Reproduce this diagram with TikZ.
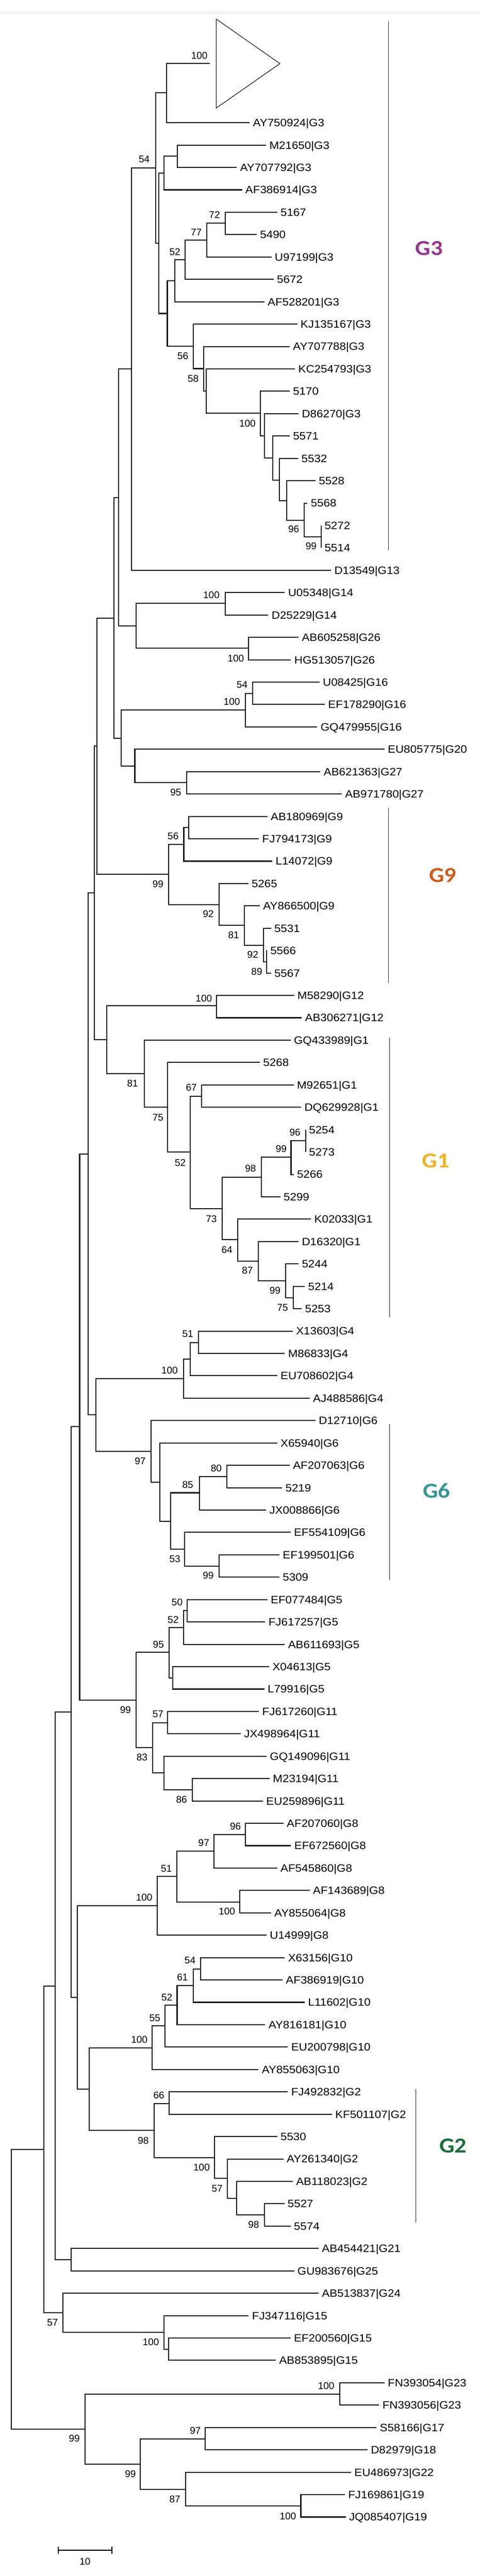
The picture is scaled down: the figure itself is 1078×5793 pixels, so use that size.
\documentclass[tikz,border=0pt]{standalone}
\usepackage{fontspec}
\setmainfont{Liberation Sans}
\newfontfamily\labfont[FakeStretch=1.08]{Liberation Sans}
\newfontfamily\grpfont[FakeStretch=1.12]{Carlito}
\definecolor{cGiii}{RGB}{148,55,140}
\definecolor{cGix}{RGB}{197,95,30}
\definecolor{cGi}{RGB}{236,180,40}
\definecolor{cGvi}{RGB}{55,150,150}
\definecolor{cGii}{RGB}{30,110,60}
\begin{document}
\begin{tikzpicture}[x=0.5pt,y=-0.5pt,
  br/.style={line width=1.2pt, draw=black!90},
  lab/.style={anchor=west, inner sep=0pt, xshift=3.5pt, font=\labfont\fontsize{12}{12}\selectfont, text height=8.6pt, text depth=0pt},
  bs/.style={inner sep=0pt, font=\fontsize{11}{11}\selectfont},
  grp/.style={inner sep=0pt, font=\grpfont\bfseries\fontsize{24}{24}\selectfont},
  brk/.style={line width=0.75pt, draw=black!85},
  trishape/.style={line width=0.6pt, draw=black}]
\useasboundingbox (0,0) rectangle (1078,5793);
\fill[black!5] (0,25) rectangle (1078,31);

% leaves
\foreach \i/\lx/\lbl in {1/561/AY750924|G3, 2/598/M21650|G3, 3/532/AY707792|G3, 4/544/AF386914|G3, 5/623/5167, 6/577/5490, 7/610/U97199|G3, 8/615/5672, 9/594/AF528201|G3, 10/668/KJ135167|G3, 11/651/AY707788|G3, 12/663/KC254793|G3, 13/651/5170, 14/671/D86270|G3, 15/651/5571, 16/670/5532, 17/709/5528, 18/691/5568, 19/722/5272, 20/722/5514, 21/744/D13549|G13, 22/640/U05348|G14, 23/603/D25229|G14, 24/671/AB605258|G26, 25/654/HG513057|G26, 26/718/U08425|G16, 27/730/EF178290|G16, 28/713/GQ479955|G16, 29/864/EU805775|G20, 30/720/AB621363|G27, 31/768/AB971780|G27, 32/601/AB180969|G9, 33/582/FJ794173|G9, 34/612/L14072|G9, 35/558/5265, 36/584/AY866500|G9, 37/609/5531, 38/600/5566, 39/609/5567, 40/661/M58290|G12, 41/678/AB306271|G12, 42/653/GQ433989|G1, 43/584/5268, 44/660/M92651|G1, 45/677/DQ629928|G1, 46/687/5254, 47/687/5273, 48/660/5266, 49/630/5299, 50/699/K02033|G1, 51/671/D16320|G1, 52/671/5244, 53/685/5214, 54/678/5253, 55/658/X13603|G4, 56/640/M86833|G4, 57/623/EU708602|G4, 58/696/AJ488586|G4, 59/709/D12710|G6, 60/623/X65940|G6, 61/651/AF207063|G6, 62/634/5219, 63/598/JX008866|G6, 64/653/EF554109|G6, 65/628/EF199501|G6, 66/628/5309, 67/601/EF077484|G5, 68/596/FJ617257|G5, 69/640/AB611693|G5, 70/605/X04613|G5, 71/594/L79916|G5, 72/582/FJ617260|G11, 73/541/JX498964|G11, 74/599/GQ149096|G11, 75/606/M23194|G11, 76/591/EU259896|G11, 77/637/AF207060|G8, 78/654/EF672560|G8, 79/623/AF545860|G8, 80/696/AF143689|G8, 81/609/AY855064|G8, 82/599/U14999|G8, 83/640/X63156|G10, 84/635/AF386919|G10, 85/685/L11602|G10, 86/596/AY816181|G10, 87/647/EU200798|G10, 88/581/AY855063|G10, 89/647/FJ492832|G2, 90/746/KF501107|G2, 91/623/5530, 92/637/AY261340|G2, 93/658/AB118023|G2, 94/639/5527, 95/653/5574, 96/716/AB454421|G21, 97/661/GU983676|G25, 98/716/AB513837|G24, 99/559/FJ347116|G15, 100/653/EF200560|G15, 101/620/AB853895|G15, 102/864/FN393054|G23, 103/852/FN393056|G23, 104/846/S58166|G17, 105/826/D82979|G18, 106/789/EU486973|G22, 107/775/FJ169861|G19, 108/777/JQ085407|G19}{
  \coordinate (L\i) at (\lx,{276+(\i-1)*50.32});
  \node[lab] (T\i) at (L\i) {\lbl};
}

% internal nodes
\foreach \nm/\nx/\ny in {nA/374/209, T0/472/143, nD2/399/351, nD/368/389, n5167/506/502, n77/465/540, n52/416/584, nE2/393/631, nE/376/705, nF/434/779, nG/458/829, nH/463/879, nI/585/929, nJ/594/980, nK/613/1030, nL/628/1080, nM/644/1126, nN/684/1170, nO/722/1207, nC/357/547, nB/350/378, nP/295/830, nG14/506/1357, nG26/558/1458, nQ/306/1408, nS/266/1119, nG16a/568/1559, nG16/551/1597, nG27/419/1760, nV/303/1723, nU/272/1660, nT/256/1390, nG9a/424/1861, nG9b/413/1899, nY1/599/2163, nY2/592/2126, nY3/549/2081, nY4/492/2034, nG9/379/1966, nW/218/1678, nG12/487/2262, nG1k/687/2565, nG1j/654/2602, nG1i/587/2647, nG1n/659/2918, nG1m/642/2880, nG1l/580/2836, nG1h/534/2788, nG1g/499/2718, nG1f/453/2465, nG1e/428/2591, nG1d/377/2490, nG1/324/2414, nZ/240/2338, nX/212/2008, nG4c/446/3019, nG4b/428/3056, nG4/412/3100, nG6e/510/3320, nG6d/448/3357, nG6g/492/3522, nG6f/415/3484, nG6c/384/3421, nG6b/359/3333, nG6/340/3264, nG46/215/3182, nY/198/2595, nG5a/421/3622, nG5b/412/3660, nG5c/388/3773, nG5/380/3716, nG11a/377/3874, nG11c/432/4025, nG11b/368/3987, nG11/343/3930, nG511/306/3823, nAA/179/3208, nG8d/552/4126, nG8c/481/4163, nG8e/539/4277, nG8b/397/4220, nG8/353/4286, nG10e/451/4428, nG10d/434/4465, nG10c/398/4509, nG10b/371/4556, nG10/342/4605, nG2a/380/4730, nG2e/594/4981, nG2d/532/4944, nG2c/511/4899, nG2b/482/4852, nG2/346/4791, nG102/200/4698, nAD/174/4492, nAB/160/3850, nG2125/160/5082, nAC/124/4466, nG15b/379/5283, nG15/368/5245, nG24/141/5201, nAE/98/4834, nG23/763/5384, nG19/676/5635, nG22/417/5598, nG1718/461/5485, nR3/315/5542, nR2/191/5463, root/26/5148}{
  \coordinate (\nm) at (\nx,\ny);
}

% branches
\foreach \p/\c in {nA/T0, nA/L1, nD2/L2, nD2/L3, nD/nD2, nD/L4, n5167/L5, n5167/L6, n77/n5167, n77/L7, n52/n77, n52/L8, nE2/n52, nE2/L9, nE/nE2, nE/nF, nF/L10, nF/nG, nG/L11, nG/nH, nH/L12, nH/nI, nI/L13, nI/nJ, nJ/L14, nJ/nK, nK/L15, nK/nL, nL/L16, nL/nM, nM/L17, nM/nN, nN/L18, nN/nO, nO/L19, nO/L20, nC/nD, nC/nE, nB/nA, nB/nC, nP/nB, nP/L21, nG14/L22, nG14/L23, nG26/L24, nG26/L25, nQ/nG14, nQ/nG26, nS/nP, nS/nQ, nG16a/L26, nG16a/L27, nG16/nG16a, nG16/L28, nG27/L30, nG27/L31, nV/L29, nV/nG27, nU/nG16, nU/nV, nT/nS, nT/nU, nG9a/L32, nG9a/L33, nG9b/nG9a, nG9b/L34, nY1/L38, nY1/L39, nY2/L37, nY2/nY1, nY3/L36, nY3/nY2, nY4/L35, nY4/nY3, nG9/nG9b, nG9/nY4, nW/nT, nW/nG9, nG12/L40, nG12/L41, nG1k/L46, nG1k/L47, nG1j/nG1k, nG1j/L48, nG1i/nG1j, nG1i/L49, nG1n/L53, nG1n/L54, nG1m/L52, nG1m/nG1n, nG1l/L51, nG1l/nG1m, nG1h/L50, nG1h/nG1l, nG1g/nG1i, nG1g/nG1h, nG1f/L44, nG1f/L45, nG1e/nG1f, nG1e/nG1g, nG1d/L43, nG1d/nG1e, nG1/L42, nG1/nG1d, nZ/nG12, nZ/nG1, nX/nW, nX/nZ, nG4c/L55, nG4c/L56, nG4b/nG4c, nG4b/L57, nG4/nG4b, nG4/L58, nG6e/L61, nG6e/L62, nG6d/nG6e, nG6d/L63, nG6g/L65, nG6g/L66, nG6f/L64, nG6f/nG6g, nG6c/nG6d, nG6c/nG6f, nG6b/L60, nG6b/nG6c, nG6/L59, nG6/nG6b, nG46/nG4, nG46/nG6, nY/nX, nY/nG46, nG5a/L67, nG5a/L68, nG5b/nG5a, nG5b/L69, nG5c/L70, nG5c/L71, nG5/nG5b, nG5/nG5c, nG11a/L72, nG11a/L73, nG11c/L75, nG11c/L76, nG11b/L74, nG11b/nG11c, nG11/nG11a, nG11/nG11b, nG511/nG5, nG511/nG11, nAA/nY, nAA/nG511, nG8d/L77, nG8d/L78, nG8c/nG8d, nG8c/L79, nG8e/L80, nG8e/L81, nG8b/nG8c, nG8b/nG8e, nG8/nG8b, nG8/L82, nG10e/L83, nG10e/L84, nG10d/nG10e, nG10d/L85, nG10c/nG10d, nG10c/L86, nG10b/nG10c, nG10b/L87, nG10/nG10b, nG10/L88, nG2a/L89, nG2a/L90, nG2e/L94, nG2e/L95, nG2d/L93, nG2d/nG2e, nG2c/L92, nG2c/nG2d, nG2b/L91, nG2b/nG2c, nG2/nG2a, nG2/nG2b, nG102/nG10, nG102/nG2, nAD/nG8, nAD/nG102, nAB/nAA, nAB/nAD, nG2125/L96, nG2125/L97, nAC/nAB, nAC/nG2125, nG15b/L100, nG15b/L101, nG15/L99, nG15/nG15b, nG24/L98, nG24/nG15, nAE/nAC, nAE/nG24, nG23/L102, nG23/L103, nG19/L107, nG19/L108, nG22/L106, nG22/nG19, nG1718/L104, nG1718/L105, nR3/nG1718, nR3/nG22, nR2/nG23, nR2/nR3, root/nAE, root/nR2}{
  \draw[br] (\p) |- (\c);
}

% collapsed clade triangle
\coordinate (tr1) at (486,43);
\coordinate (tr2) at (629,143);
\coordinate (tr3) at (486,243);
\draw[trishape] (tr1) -- (tr2) -- (tr3) -- cycle;

% bootstrap values
\foreach \bx/\by/\bv [count=\k] in {448/125/100, 324/358/54, 482/483/72, 441/522/77, 393/566/52, 411/800/56, 434/851/58, 556/952/100, 660/1190/96, 699/1228/99, 475/1338/100, 530/1481/100, 544/1540/54, 521/1578/100, 395/1782/95, 389/1880/56, 355/1988/99, 468/2055/92, 525/2103/81, 568/2147/92, 577/2185/89, 458/2245/100, 298/2437/81, 355/2513/75, 430/2446/67, 405/2615/52, 663/2547/96, 632/2584/99, 563/2628/98, 475/2741/73, 510/2811/64, 556/2857/87, 618/2902/99, 635/2940/75, 422/3000/51, 381/3082/100, 315/3286/97, 486/3302/80, 422/3339/85, 393/3506/53, 468/3543/99, 398/3603/50, 389/3642/52, 356/3698/95, 282/3845/99, 355/3855/57, 319/3952/83, 408/4047/86, 529/4107/96, 458/4144/97, 374/4202/51, 324/4267/100, 510/4298/100, 427/4409/54, 410/4447/61, 375/4492/52, 348/4538/55, 313/4587/100, 357/4712/66, 322/4814/98, 453/4874/100, 488/4922/57, 570/5003/98, 118/5223/57, 339/5267/100, 733/5365/100, 167/5484/99, 439/5466/97, 293/5563/99, 393/5620/87, 647/5658/100}{
  \node[bs] (b\k) at (\bx,\by) {\bv};
}

% group brackets
\coordinate (k3a) at (873,48);   \coordinate (k3b) at (873,1237);
\coordinate (k9a) at (873,1817); \coordinate (k9b) at (873,2210);
\coordinate (k1a) at (875,2333); \coordinate (k1b) at (875,2963);
\coordinate (k6a) at (875,3202); \coordinate (k6b) at (875,3553);
\coordinate (k2a) at (934,4698); \coordinate (k2b) at (934,4998);
\draw[brk] (k3a) -- (k3b);
\draw[brk] (k9a) -- (k9b);
\draw[brk] (k1a) -- (k1b);
\draw[brk] (k6a) -- (k6b);
\draw[brk] (k2a) -- (k2b);

\node[grp, text=cGiii] (gG3) at (964,558) {G3};
\node[grp, text=cGix] (gG9) at (995,1968) {G9};
\node[grp, text=cGi] (gG1) at (979,2610) {G1};
\node[grp, text=cGvi] (gG6) at (981,3352) {G6};
\node[grp, text=cGii] (gG2) at (1018,4825) {G2};

% scale bar
\coordinate (sb1) at (131,5735);
\coordinate (sb2) at (251,5735);
\draw[line width=1pt] (sb1) -- (sb2);
\draw[line width=1pt] ([yshift=4.25pt]sb1) -- ([yshift=-4.25pt]sb1);
\draw[line width=1pt] ([yshift=4.25pt]sb2) -- ([yshift=-4.25pt]sb2);
\node[bs] (sbl) at (191,5760) {10};
\end{tikzpicture}
\end{document}
